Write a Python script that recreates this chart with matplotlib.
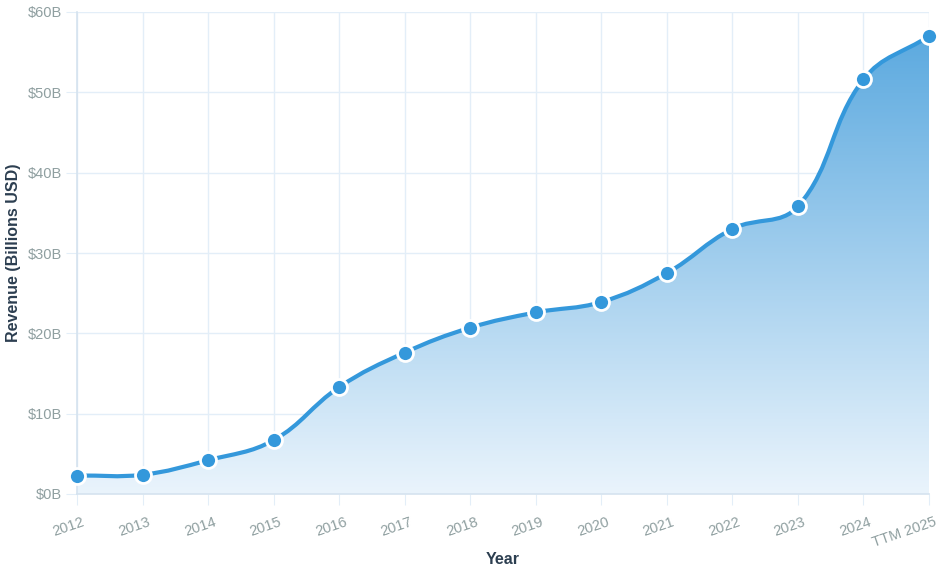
import numpy as np
import matplotlib
matplotlib.use("Agg")
from matplotlib import pyplot as plt
from matplotlib.path import Path
from matplotlib.patches import PathPatch
from matplotlib.transforms import ScaledTranslation

# Revenue in billions USD
years = ["2012", "2013", "2014", "2015", "2016", "2017", "2018",
         "2019", "2020", "2021", "2022", "2023", "2024", "TTM 2025"]
revenue = [2.3, 2.4, 4.2, 6.7, 13.3, 17.6, 20.7,
           22.6, 23.9, 27.5, 33.0, 35.8, 51.6, 57.0]
y_ticks = [0, 10, 20, 30, 40, 50, 60]
y_tick_labels = ["$0B", "$10B", "$20B", "$30B", "$40B", "$50B", "$60B"]

plt.rcParams["font.family"] = ["Liberation Sans", "DejaVu Sans"]

line_color = "#3498db"
grid_color = "#e3eef8"
tick_color = "#8f9fa0"
label_color = "#2c3e50"

fig = plt.figure(figsize=(9.4, 5.77), dpi=100)
ax = fig.add_axes([77 / 940, 1 - 494 / 577, (929 - 77) / 940, (494 - 12) / 577])

x = np.arange(len(years))
ax.set_xlim(0, len(years) - 1)
ax.set_ylim(0, 60)

# smooth curve like Chart.js (tension 0.4), control points in pixel space
pts = ax.transData.transform(np.column_stack([x, revenue]))
tension = 0.4
verts = [pts[0]]
codes = [Path.MOVETO]
cps = []
for i in range(len(pts)):
    prev = pts[max(i - 1, 0)]
    cur = pts[i]
    nxt = pts[min(i + 1, len(pts) - 1)]
    d01 = np.hypot(*(cur - prev))
    d12 = np.hypot(*(nxt - cur))
    tot = d01 + d12 if d01 + d12 > 0 else 1
    fa = tension * d01 / tot
    fb = tension * d12 / tot
    cps.append((cur - fa * (nxt - prev), cur + fb * (nxt - prev)))
for i in range(1, len(pts)):
    verts += [cps[i - 1][1], cps[i][0], pts[i]]
    codes += [Path.CURVE4] * 3
inv = ax.transData.inverted()
curve_data = inv.transform(np.array(verts))

line_path = Path(curve_data, codes)
fill_verts = np.vstack([curve_data, [[x[-1], 0], [x[0], 0], curve_data[0]]])
fill_codes = codes + [Path.LINETO, Path.LINETO, Path.CLOSEPOLY]
fill_path = Path(fill_verts, fill_codes)

# vertical gradient fill clipped by the area under the curve
grad = np.linspace(0, 1, 256).reshape(-1, 1)
top = np.array([0x55, 0xa6, 0xde]) / 255
bottom = np.array([0xea, 0xf4, 0xfc]) / 255
img = bottom + (top - bottom) * grad
img = img.reshape(256, 1, 3)
im = ax.imshow(img, extent=[0, len(years) - 1, 0, 60], origin="lower",
               aspect="auto", zorder=1)
clip = PathPatch(fill_path, transform=ax.transData, facecolor="none", edgecolor="none")
ax.add_patch(clip)
im.set_clip_path(clip)

ax.add_patch(PathPatch(line_path, facecolor="none", edgecolor=line_color,
                       lw=3, zorder=3, capstyle="round"))
ax.plot(x, revenue, "o", color=line_color, markersize=11.5,
        markeredgecolor="white", markeredgewidth=2, zorder=4, clip_on=False)

# grid and axes
ax.set_axisbelow(True)
ax.grid(True, color=grid_color, lw=1)
for s in ["top", "right"]:
    ax.spines[s].set_visible(False)
for s in ["left", "bottom"]:
    ax.spines[s].set_color("#d5e3ef")
    ax.spines[s].set_linewidth(1.2)

ax.set_xticks(x)
ax.set_xticklabels(years, rotation=19, ha="right", rotation_mode="anchor")
ax.set_yticks(y_ticks)
ax.set_yticklabels(y_tick_labels)
ax.tick_params(axis="both", length=8, color=grid_color, labelcolor=tick_color)
ax.tick_params(axis="y", pad=3, labelsize=10.5)
ax.tick_params(axis="x", pad=7, labelsize=10.5)
shift = ScaledTranslation(5 / 100, 0, fig.dpi_scale_trans)
for lab in ax.get_xticklabels():
    lab.set_transform(lab.get_transform() + shift)

ax.set_xlabel("Year", fontsize=11.5, fontweight="bold", color=label_color)
ax.set_ylabel("Revenue (Billions USD)", fontsize=11.5, fontweight="bold",
              color=label_color)
ax.xaxis.set_label_coords(0.5, (494 - 560) / 482)
ax.yaxis.set_label_coords((14 - 77) / 852, 0.5)
ax.xaxis.label.set_va("center")
ax.yaxis.label.set_va("center")

fig.savefig("out.png", dpi=100)
